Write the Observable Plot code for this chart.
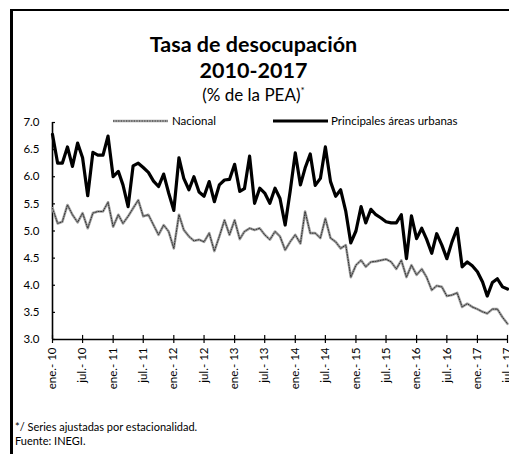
<!DOCTYPE html>
<html><head><meta charset="utf-8">
<script src="https://cdn.jsdelivr.net/npm/d3@7"></script>
<script src="https://cdn.jsdelivr.net/npm/@observablehq/plot@0.6"></script>
<style>
body{margin:0;background:#fff;font-family:Lato,"Open Sans",sans-serif;color:#000;}
#page{position:relative;width:509px;height:454px;overflow:hidden;background:#fff;}
#frame{position:absolute;left:10px;top:9px;width:520px;height:470px;border-left:3px solid #000;border-top:2px solid #000;}
.t{position:absolute;left:0;width:507px;text-align:center;white-space:nowrap;}
#chart{position:absolute;left:0;top:0;}
.leg{position:absolute;font-size:11.5px;white-space:nowrap;line-height:14px;}
.leg svg{position:absolute;left:0;top:0;}
.foot{position:absolute;left:15px;font-size:11px;white-space:nowrap;}
</style></head>
<body>
<div id="page">
  <div id="frame"></div>
  <div id="chart"></div>
  <div class="t" style="top:31px;font-size:21.5px;font-weight:bold;">Tasa de desocupación</div>
  <div class="t" style="top:57px;font-size:21.5px;font-weight:bold;">2010-2017</div>
  <div class="t" style="top:84px;font-size:17px;">(% de la PEA)<sup style="font-size:10px">*</sup></div>
  <div class="leg" style="left:113px;top:114px;"><svg width="56" height="14"><line x1="0" y1="7" x2="55" y2="7" stroke="#a0a0a0" stroke-width="2.4"/><line x1="0" y1="7" x2="55" y2="7" stroke="#333" stroke-width="1" stroke-dasharray="1.2,1.4"/></svg><span style="margin-left:59px">Nacional</span></div>
  <div class="leg" style="left:273px;top:114px;"><svg width="56" height="14"><line x1="0" y1="7" x2="55" y2="7" stroke="#000" stroke-width="3"/></svg><span style="margin-left:58px">Principales áreas urbanas</span></div>
  <div class="foot" style="top:420px;">*/ Series ajustadas por estacionalidad.</div>
  <div class="foot" style="top:434px;">Fuente: INEGI.</div>
</div>
<script>
// Monthly series, ene-2010 .. jul-2017
const startYear = 2010, startMonth = 0, nMonths = 91;
const urbanas = [
 6.78,6.25,6.25,6.55,6.19,6.62,6.35,5.65,6.45,6.40,6.40,6.75,
 6.00,6.10,5.85,5.45,6.20,6.25,6.17,6.08,5.92,5.82,6.05,5.70,
 5.38,6.35,5.97,5.76,6.00,5.72,5.64,5.91,5.54,5.85,5.94,5.95,
 6.23,5.73,5.78,6.38,5.51,5.79,5.70,5.51,5.79,5.60,5.11,5.73,
 6.44,5.85,6.16,6.42,5.84,5.97,6.55,5.91,5.64,5.76,5.36,4.78,
 5.00,5.45,5.15,5.40,5.30,5.24,5.17,5.15,5.15,5.30,4.49,5.28,
 4.86,5.05,4.85,4.59,4.95,4.74,4.49,4.80,5.05,4.34,4.43,4.36,
 4.25,4.06,3.80,4.05,4.12,3.97,3.93
];
const nacional = [
 5.42,5.14,5.17,5.48,5.30,5.16,5.33,5.05,5.33,5.36,5.36,5.53,
 5.08,5.30,5.14,5.27,5.42,5.57,5.27,5.30,5.11,4.93,5.11,4.99,
 4.68,5.30,5.02,4.90,4.82,4.84,4.80,4.96,4.63,4.90,5.20,4.93,
 5.20,4.85,4.99,5.05,5.02,5.05,4.93,4.84,4.99,4.90,4.65,4.80,
 4.93,4.77,5.36,4.96,4.96,4.87,5.23,4.87,4.80,4.68,4.74,4.15,
 4.37,4.46,4.34,4.43,4.44,4.46,4.48,4.43,4.30,4.46,4.15,4.37,
 4.19,4.30,4.15,3.91,3.99,3.97,3.80,3.82,3.86,3.60,3.66,3.60,
 3.56,3.51,3.48,3.56,3.56,3.41,3.29
];
const xLabels = ["ene.- 10","jul.- 10","ene.- 11","jul.- 11","ene.- 12","jul.- 12","ene.- 13","jul.- 13",
 "ene.- 14","jul.- 14","ene.- 15","jul.- 15","ene.- 16","jul.- 16","ene.- 17","jul.- 17"];
const yTicks = [3.0,3.5,4.0,4.5,5.0,5.5,6.0,6.5,7.0];

const dates = d3.range(nMonths).map(i => new Date(Date.UTC(startYear, startMonth + i, 1)));
const xTicks = xLabels.map((_, i) => new Date(Date.UTC(startYear, startMonth + 6 * i, 1)));
const lab = d => xLabels[xTicks.findIndex(t => +t === +d)];
const d0 = dates[0], dN = dates[dates.length - 1];
const tickEnd = new Date(Date.UTC(startYear, startMonth, 19));

const plot = Plot.plot({
  width: 509, height: 400,
  marginLeft: 52, marginRight: 2, marginTop: 122, marginBottom: 61,
  x: {type: "utc", domain: [d0, dN]},
  y: {domain: [3, 7]},
  style: {fontFamily: "Lato, 'Open Sans', sans-serif", fontSize: "11px", color: "#000", background: "transparent", overflow: "visible"},
  marks: [
    Plot.axisY({ticks: yTicks, tickSize: 0, tickPadding: 13, tickFormat: d => d.toFixed(1), fontSize: 11.5}),
    Plot.axisX({ticks: xTicks, tickSize: 4, tickPadding: 4, tickRotate: -90, tickFormat: lab, fontSize: 11.5, stroke: "#000", strokeWidth: 1.2}),
    Plot.ruleY(yTicks, {x1: d0, x2: tickEnd, stroke: "#000", strokeWidth: 1.2}),
    Plot.ruleX(xTicks, {y1: 3, y2: 3.075, stroke: "#000", strokeWidth: 1.2}),
    Plot.ruleX([d0], {stroke: "#000", strokeWidth: 1.6}),
    Plot.ruleY([3], {stroke: "#000", strokeWidth: 1.4}),
    Plot.line(nacional, {x: (d, i) => dates[i], y: d => d, stroke: "#a0a0a0", strokeWidth: 2.6}),
    Plot.line(nacional, {x: (d, i) => dates[i], y: d => d, stroke: "#333", strokeWidth: 1, strokeDasharray: "1.2,1.4"}),
    Plot.line(urbanas, {x: (d, i) => dates[i], y: d => d, stroke: "#000", strokeWidth: 3.2, strokeLinejoin: "round"})
  ]
});
document.getElementById("chart").appendChild(plot);
</script>
</body></html>
